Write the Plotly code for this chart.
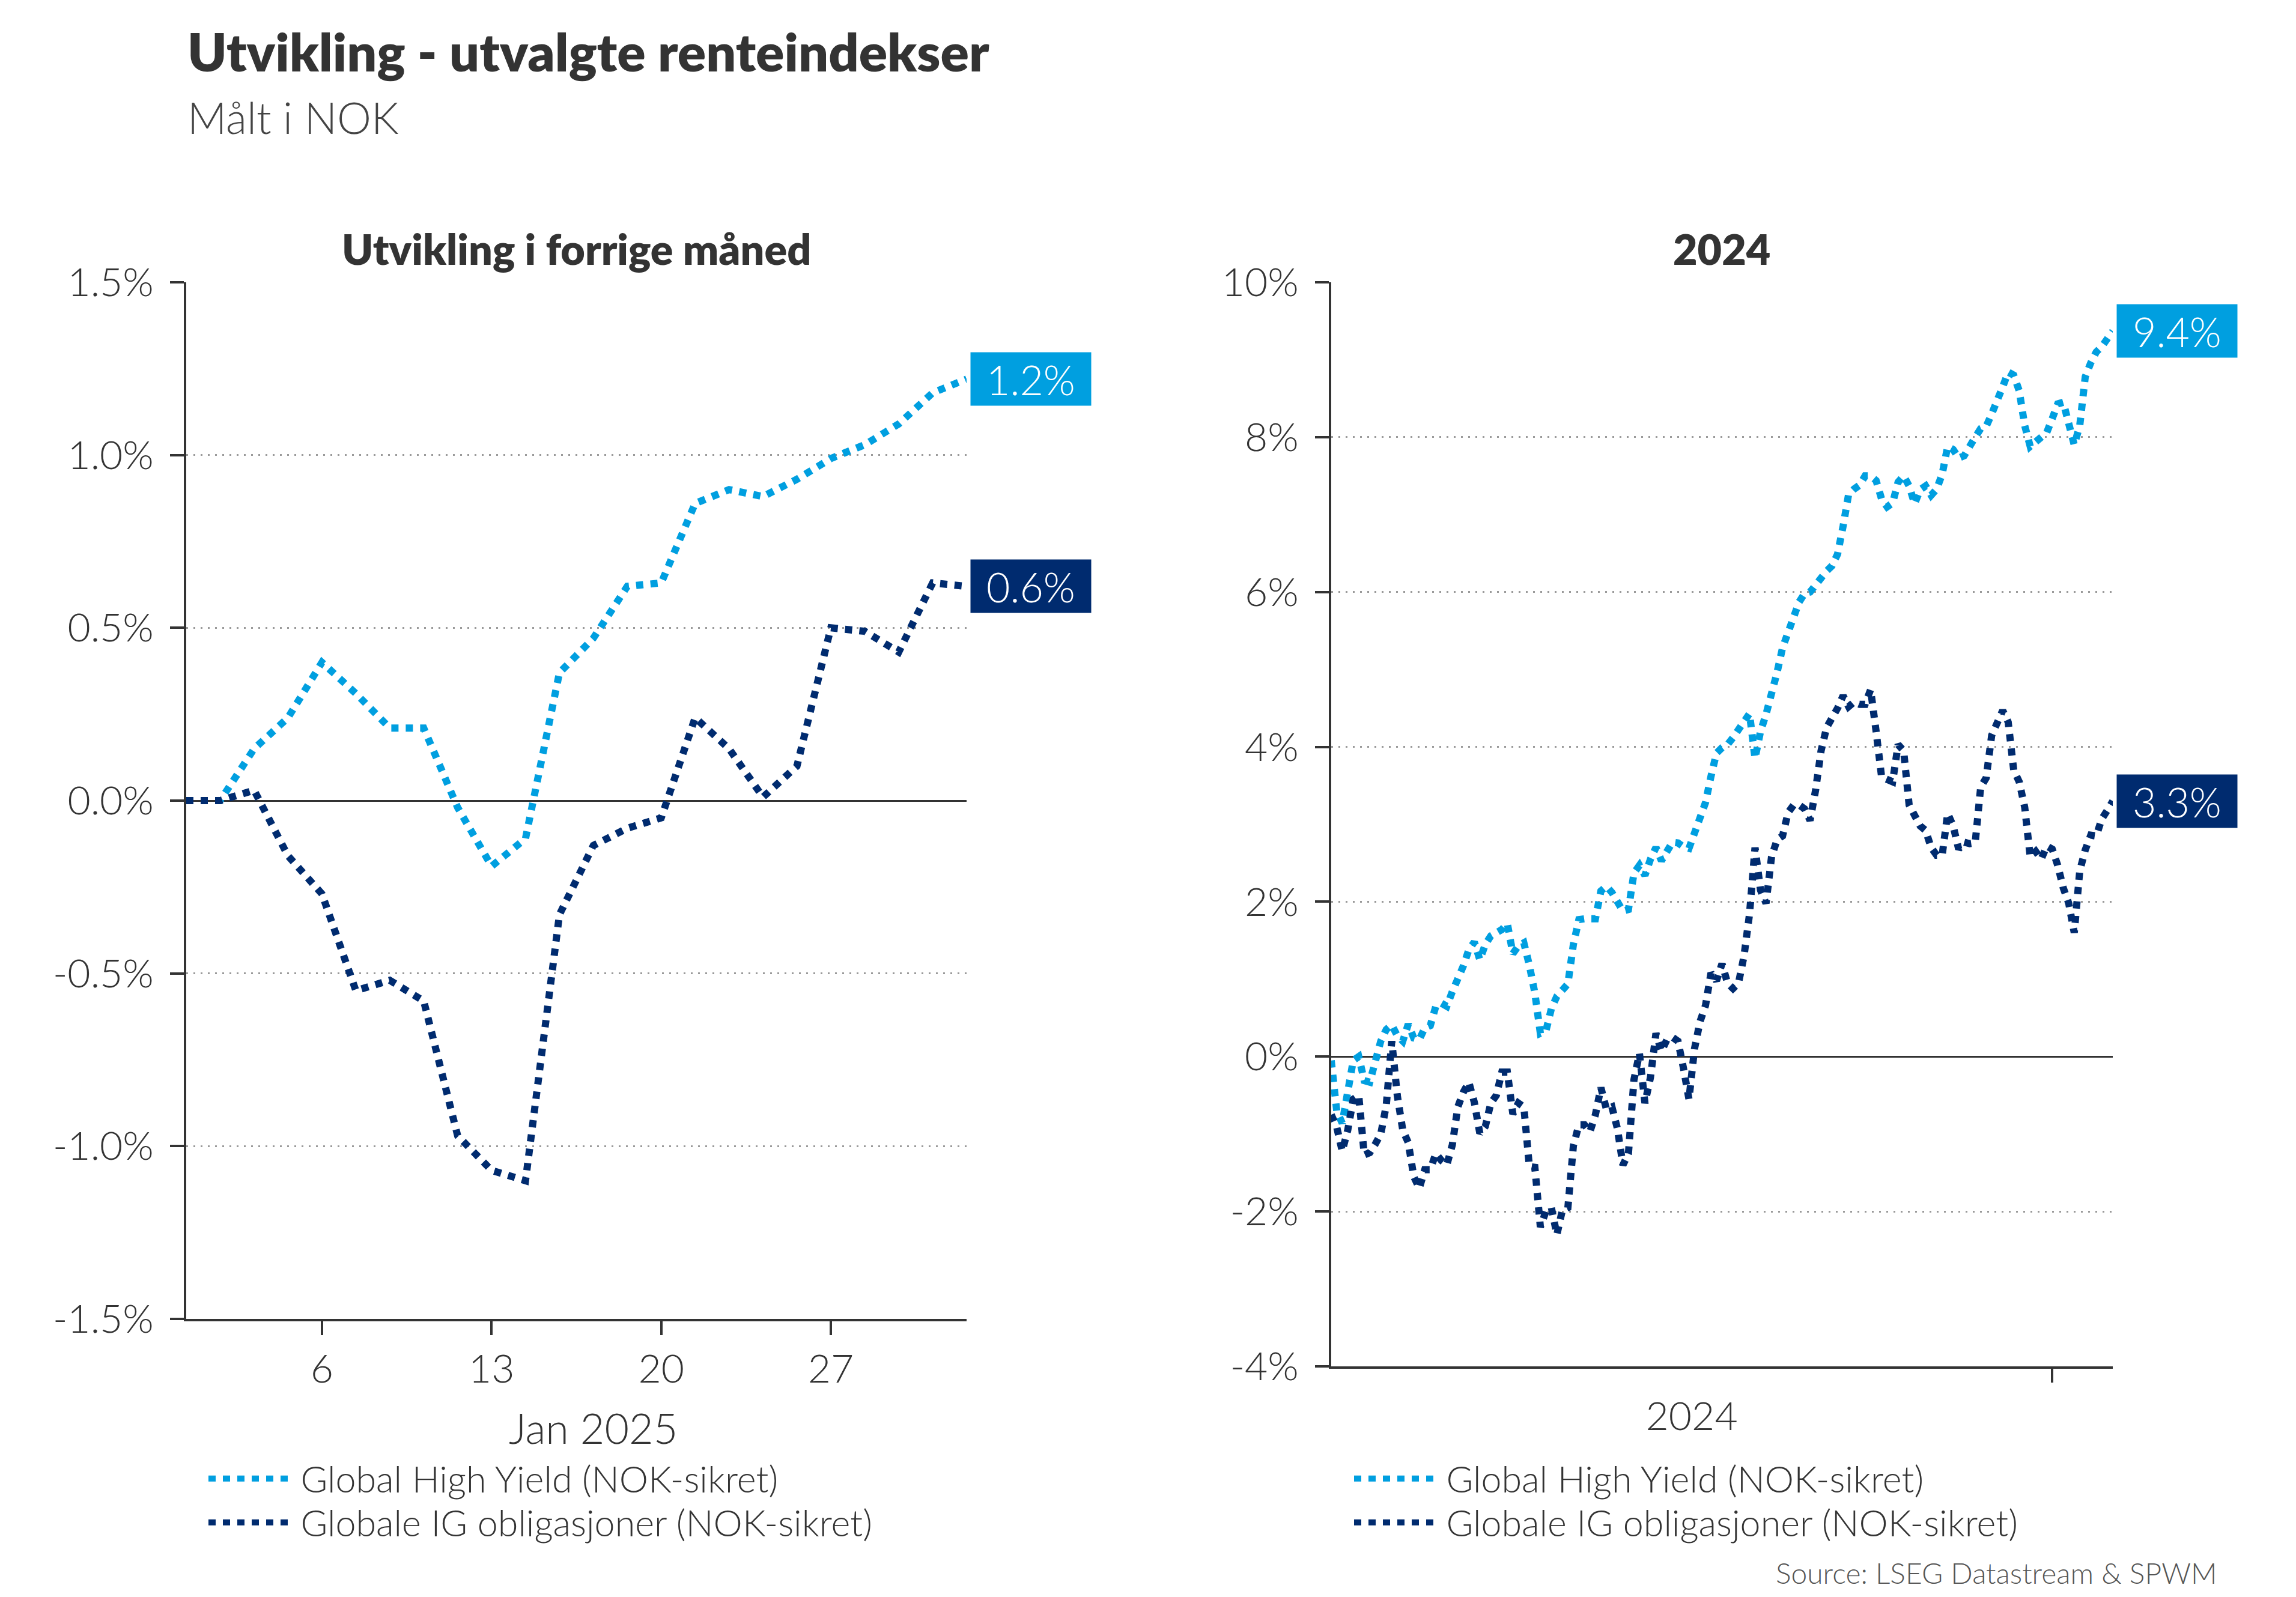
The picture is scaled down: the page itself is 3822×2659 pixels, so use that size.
import plotly.graph_objects as go
import pandas as pd

# Utvikling i forrige maaned: bankdager 31.12.2024 - 31.01.2025 (prosent)
jan_dates = pd.bdate_range("2024-12-31", "2025-01-31")
hy_jan = [0.00, 0.00, 0.15, 0.24, 0.40, 0.31, 0.21, 0.21, -0.02, -0.19,
          -0.11, 0.37, 0.47, 0.62, 0.63, 0.86, 0.90, 0.88, 0.93, 0.99,
          1.03, 1.09, 1.18, 1.22]
ig_jan = [0.00, 0.00, 0.03, -0.16, -0.27, -0.55, -0.52, -0.58, -0.97, -1.07,
          -1.10, -0.33, -0.13, -0.08, -0.05, 0.24, 0.15, 0.01, 0.10, 0.50,
          0.49, 0.43, 0.63, 0.62]

# 2024 (+ januar 2025), annenhver bankdag (prosent)
year_dates = pd.bdate_range("2024-01-01", "2025-01-31")[::2]
hy_year = [-0.05, -0.70, -0.86, -0.48, -0.05, 0.00, -0.31, -0.33, -0.10, 0.20,
           0.35, 0.41, 0.27, 0.20, 0.42, 0.24, 0.22, 0.37, 0.40, 0.65,
           0.69, 0.65, 0.84, 1.00, 1.17, 1.38, 1.48, 1.25, 1.45, 1.56,
           1.60, 1.64, 1.72, 1.33, 1.43, 1.47, 1.18, 0.82, 0.30, 0.33,
           0.62, 0.78, 0.86, 0.94, 1.45, 1.77, 1.78, 1.78, 1.78, 2.14,
           2.20, 2.12, 2.00, 1.88, 1.90, 2.37, 2.47, 2.34, 2.55, 2.70,
           2.53, 2.67, 2.77, 2.76, 2.71, 2.69, 2.90, 3.07, 3.28, 3.62,
           3.92, 3.99, 4.03, 4.12, 4.22, 4.33, 4.43, 3.85, 4.20, 4.42,
           4.67, 4.96, 5.28, 5.50, 5.68, 5.87, 5.98, 6.00, 6.09, 6.19,
           6.27, 6.34, 6.49, 6.85, 7.26, 7.33, 7.38, 7.50, 7.50, 7.44,
           7.20, 7.10, 7.15, 7.42, 7.50, 7.37, 7.14, 7.32, 7.37, 7.25,
           7.33, 7.52, 7.88, 7.84, 7.73, 7.76, 7.86, 8.00, 8.11, 8.14,
           8.30, 8.46, 8.65, 8.84, 8.80, 8.60, 8.15, 7.88, 7.95, 8.01,
           8.06, 8.24, 8.43, 8.45, 8.15, 7.90, 8.15, 8.78, 8.96, 9.10,
           9.17, 9.27, 9.37]
ig_year = [-0.75, -0.91, -1.22, -0.95, -0.55, -0.50, -1.27, -1.24, -1.13, -1.00,
           -0.63, 0.20, -0.50, -0.95, -1.11, -1.55, -1.70, -1.46, -1.46, -1.25,
           -1.34, -1.40, -1.14, -0.65, -0.46, -0.33, -0.59, -0.99, -0.90, -0.60,
           -0.50, -0.20, -0.20, -0.74, -0.60, -0.65, -1.42, -1.43, -2.20, -2.00,
           -1.95, -2.30, -1.98, -1.95, -1.15, -0.88, -0.88, -0.97, -0.75, -0.40,
           -0.68, -0.65, -0.93, -1.40, -1.25, -0.30, 0.04, -0.60, -0.27, 0.30,
           0.07, 0.22, 0.25, 0.20, -0.15, -0.55, 0.10, 0.45, 0.66, 1.08,
           0.98, 1.20, 0.95, 0.88, 0.95, 1.30, 1.84, 2.70, 2.15, 1.98,
           2.58, 2.80, 2.85, 3.15, 3.25, 3.25, 3.20, 3.05, 3.44, 3.95,
           4.25, 4.37, 4.50, 4.66, 4.52, 4.58, 4.55, 4.55, 4.74, 4.20,
           3.61, 3.58, 3.55, 4.03, 3.95, 3.25, 3.10, 2.98, 2.92, 2.70,
           2.60, 2.60, 3.14, 2.98, 2.68, 2.77, 2.75, 2.76, 3.48, 3.60,
           4.15, 4.30, 4.47, 4.32, 3.70, 3.55, 3.22, 2.58, 2.65, 2.55,
           2.72, 2.68, 2.47, 2.18, 1.98, 1.60, 2.40, 2.67, 2.86, 2.85,
           3.07, 3.18, 3.30]

names = ["Global High Yield (NOK-sikret)", "Globale IG obligasjoner (NOK-sikret)"]
left_ticks = [-1.5, -1.0, -0.5, 0.0, 0.5, 1.0, 1.5]
right_ticks = [-4, -2, 0, 2, 4, 6, 8, 10]
jan_tickvals = ["2025-01-06", "2025-01-13", "2025-01-20", "2025-01-27"]
jan_ticktext = ["6", "13", "20", "27"]

W, H = 3822, 2659
OFF = 8  # body margin of the page


def px(x):
    return (x - OFF) / W


def py(y):
    return 1 - (y - OFF) / H


HY_COL = "#009fe0"
IG_COL = "#002b6f"
TXT = "#333333"
BODY = dict(family="Lato", size=66, color=TXT, weight=300)
LEG = dict(family="Lato", size=61, color=TXT, weight=300)
BOLD = dict(family="Lato", color=TXT, weight=800)
DASH = "12px,12px"
PAD = "\u00a0"

fig = go.Figure()
for y, col, name, lg in [(hy_jan, HY_COL, names[0], "legend"), (ig_jan, IG_COL, names[1], "legend3")]:
    fig.add_trace(go.Scatter(x=jan_dates, y=y, mode="lines", name=PAD + name,
                             line=dict(color=col, width=12, dash=DASH),
                             xaxis="x", yaxis="y", legend=lg, showlegend=True))
for y, col, name, lg in [(hy_year, HY_COL, names[0], "legend2"), (ig_year, IG_COL, names[1], "legend4")]:
    fig.add_trace(go.Scatter(x=year_dates, y=y, mode="lines", name=PAD + name,
                             line=dict(color=col, width=12, dash=DASH),
                             xaxis="x2", yaxis="y2", legend=lg, showlegend=True))

axis_common = dict(showline=True, linecolor=TXT, linewidth=4, ticks="outside",
                   ticklen=23, tickwidth=4, tickcolor=TXT, tickfont=BODY,
                   automargin=False)
grid = dict(showgrid=True, gridcolor="#9a9a9a", gridwidth=3, griddash="3px,9px",
            zeroline=True, zerolinecolor=TXT, zerolinewidth=3, ticklabelstandoff=14)


def leg(x, y):
    return dict(x=px(x), y=py(y), xanchor="left", yanchor="middle", font=LEG,
                itemwidth=132, bgcolor="rgba(0,0,0,0)", visible=True)


fig.update_layout(
    width=W, height=H,
    showlegend=True,
    margin=dict(l=0, r=0, t=0, b=0),
    paper_bgcolor="white", plot_bgcolor="white",
    xaxis=dict(domain=[px(310), px(1609)], anchor="y", type="date",
               range=["2024-12-31", "2025-01-31"],
               rangebreaks=[dict(bounds=["sat", "mon"])],
               tickvals=jan_tickvals, ticktext=jan_ticktext, showgrid=False,
               **axis_common),
    yaxis=dict(domain=[py(2196), py(470)], anchor="x", range=[-1.5, 1.5],
               tickvals=left_ticks, ticktext=[f"{v:.1f}%" for v in left_ticks],
               **grid, **axis_common),
    xaxis2=dict(domain=[px(2216), px(3517)], anchor="y2", type="date",
                range=["2024-01-01", "2025-01-31"],
                rangebreaks=[dict(bounds=["sat", "mon"])],
                tick0="2024-01-01", dtick="M12", tickformat="%Y",
                ticklabelmode="period", showgrid=False, **axis_common),
    yaxis2=dict(domain=[py(2275), py(470)], anchor="x2", range=[-4, 10],
                tickvals=right_ticks, ticktext=[f"{v}%" for v in right_ticks],
                **grid, **axis_common),
    legend=leg(342, 2462),
    legend3=leg(342, 2535),
    legend2=leg(2249, 2462),
    legend4=leg(2249, 2535),
)

ann = [
    dict(text="Utvikling - utvalgte renteindekser", x=px(310), y=py(85),
         xanchor="left", yanchor="middle", font=dict(size=88, **BOLD)),
    dict(text="Målt i NOK", x=px(310), y=py(195), xanchor="left",
         yanchor="middle", font=dict(family="Lato", size=72, color="#444444", weight=300)),
    dict(text="Utvikling i forrige måned", x=px(959), y=py(414),
         xanchor="center", yanchor="middle", font=dict(size=70, **BOLD)),
    dict(text="2024", x=px(2866), y=py(414),
         xanchor="center", yanchor="middle", font=dict(size=70, **BOLD)),
    dict(text="Jan 2025", x=px(987), y=py(2377),
         xanchor="center", yanchor="middle", font=dict(BODY, size=70)),
    dict(text="Source: LSEG Datastream & SPWM", x=px(3693), y=py(2618),
         xanchor="right", yanchor="middle",
         font=dict(family="Lato", size=48, color="#555555", weight=300)),
]
for a in ann:
    a.update(xref="paper", yref="paper", showarrow=False)
    fig.add_annotation(**a)

# verdi-etiketter ved siste observasjon
for xr, yr, vals, col in [("x domain", "y", hy_jan, HY_COL), ("x domain", "y", ig_jan, IG_COL),
                          ("x2 domain", "y2", hy_year, HY_COL), ("x2 domain", "y2", ig_year, IG_COL)]:
    fig.add_annotation(x=1, y=vals[-1], xref=xr, yref=yr, xanchor="left", yanchor="middle",
                       xshift=6, text=f"{vals[-1]:.1f}%", showarrow=False,
                       bgcolor=col, width=196, height=84, borderpad=2, align="center",
                       font=dict(family="Lato", size=68, color="white", weight=300))

fig.write_html("out.html")
